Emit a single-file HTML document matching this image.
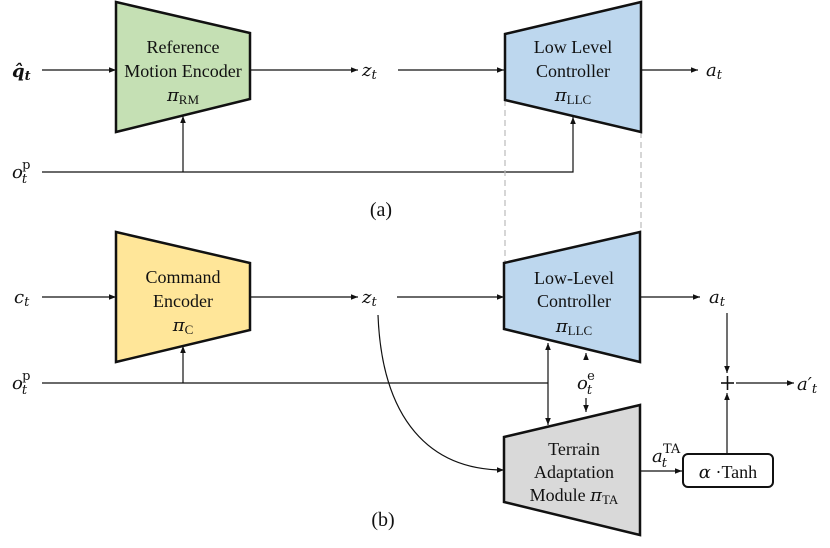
<!DOCTYPE html>
<html><head><meta charset="utf-8"><style>
html,body{margin:0;padding:0;background:#fff;}
svg{display:block;}
text{font-family:"Liberation Serif","Times New Roman","DejaVu Serif",serif;fill:#111;}
.m{font-family:"DejaVu Serif","Liberation Serif",serif;font-style:italic;}
</style></head><body>
<svg width="830" height="548" viewBox="0 0 830 548" xmlns="http://www.w3.org/2000/svg">
<defs>
<marker id="ar" viewBox="0 0 10 10" refX="10" refY="5" markerWidth="6" markerHeight="6" orient="auto-start-reverse"><path d="M0,1 L10,5 L0,9 z" fill="#111"/></marker>
</defs>
<g stroke="#111" stroke-width="1.2" fill="none">
<line x1="42" y1="70" x2="116" y2="70" marker-end="url(#ar)"/>
<line x1="250" y1="70" x2="358" y2="70" marker-end="url(#ar)"/>
<line x1="398" y1="70" x2="504" y2="70" marker-end="url(#ar)"/>
<line x1="641" y1="70" x2="698" y2="70" marker-end="url(#ar)"/>
<polyline points="42,172 573,172 573,117" marker-end="url(#ar)"/>
<line x1="183" y1="172" x2="183" y2="116" marker-end="url(#ar)"/>
<line x1="42" y1="297" x2="116" y2="297" marker-end="url(#ar)"/>
<line x1="250" y1="297" x2="358" y2="297" marker-end="url(#ar)"/>
<line x1="397" y1="297" x2="504" y2="297" marker-end="url(#ar)"/>
<line x1="641" y1="297" x2="700" y2="297" marker-end="url(#ar)"/>
<line x1="727" y1="313" x2="727" y2="373" marker-end="url(#ar)"/>
<line x1="736" y1="383" x2="794" y2="383" marker-end="url(#ar)"/>
<line x1="727" y1="454" x2="727" y2="393" marker-end="url(#ar)"/>
<line x1="641" y1="471" x2="682" y2="471" marker-end="url(#ar)"/>
<line x1="42" y1="383" x2="548" y2="383"/>
<line x1="183" y1="383" x2="183" y2="346" marker-end="url(#ar)"/>
<line x1="548" y1="425" x2="548" y2="343" marker-start="url(#ar)" marker-end="url(#ar)"/>
<line x1="586" y1="360" x2="586" y2="353" marker-end="url(#ar)"/>
<line x1="586" y1="398" x2="586" y2="412" marker-end="url(#ar)"/>
<path d="M378,315 C382,420 430,470 504,470" marker-end="url(#ar)"/>
<line x1="721" y1="383" x2="734" y2="383" stroke-width="1.6"/>
<line x1="727.5" y1="376" x2="727.5" y2="390" stroke-width="1.6"/>
</g>
<g stroke="#bbb" stroke-width="1.2" stroke-dasharray="6,4">
<line x1="505" y1="100" x2="505" y2="263"/>
<line x1="641" y1="132" x2="641" y2="232"/>
</g>
<g stroke="#111" stroke-width="2.5" stroke-linejoin="miter">
<polygon points="116,2 250,33 250,99 116,132" fill="#c5e0b4"/>
<polygon points="505,34 641,2 641,132 505,100" fill="#bdd7ee"/>
<polygon points="116,232 250,263 250,330 116,362" fill="#ffe699"/>
<polygon points="504,263 640,232 640,362 504,329" fill="#bdd7ee"/>
<polygon points="504,437 640,405 640,535 504,502" fill="#d9d9d9"/>
<rect x="683" y="454" width="90" height="33" rx="5" fill="#fff" stroke-width="2"/>
</g>
<g font-size="18" text-anchor="middle" font-family="Liberation Serif, Times New Roman, serif">
<text x="183" y="53">Reference</text>
<text x="183" y="77">Motion Encoder</text>
<text x="183" y="101"><tspan class="m">π</tspan><tspan font-size="13" dy="3">RM</tspan></text>
<text x="573" y="53">Low Level</text>
<text x="573" y="77">Controller</text>
<text x="573" y="101"><tspan class="m">π</tspan><tspan font-size="13" dy="3">LLC</tspan></text>
<text x="183" y="283">Command</text>
<text x="183" y="307">Encoder</text>
<text x="183" y="331"><tspan class="m">π</tspan><tspan font-size="13" dy="3">C</tspan></text>
<text x="574" y="284">Low-Level</text>
<text x="574" y="307">Controller</text>
<text x="574" y="332"><tspan class="m">π</tspan><tspan font-size="13" dy="3">LLC</tspan></text>
<text x="574" y="455">Terrain</text>
<text x="574" y="478">Adaptation</text>
<text x="574" y="501">Module <tspan class="m">π</tspan><tspan font-size="13" dy="3">TA</tspan></text>
<text x="728" y="478"><tspan class="m">α</tspan> ·Tanh</text>
<text x="381" y="216" font-size="20">(a)</text>
<text x="383" y="526" font-size="20">(b)</text>
</g>
<g font-size="18" class="m">
<text x="12" y="77" class="m" font-weight="bold">q̂<tspan font-size="13" dy="3">t</tspan></text>
<text x="12" y="178" class="m">o<tspan font-size="13" dx="-1" dy="5">t</tspan><tspan font-style="normal" font-size="13" dx="-5" dy="-14">p</tspan></text>
<text x="362" y="76" class="m">z<tspan font-size="13" dy="3">t</tspan></text>
<text x="706" y="76" class="m">a<tspan font-size="13" dy="3">t</tspan></text>
<text x="14" y="303" class="m">c<tspan font-size="13" dy="3">t</tspan></text>
<text x="12" y="389" class="m">o<tspan font-size="13" dx="-1" dy="5">t</tspan><tspan font-style="normal" font-size="13" dx="-5" dy="-14">p</tspan></text>
<text x="362" y="303" class="m">z<tspan font-size="13" dy="3">t</tspan></text>
<text x="709" y="303" class="m">a<tspan font-size="13" dy="3">t</tspan></text>
<text x="577" y="389" class="m">o<tspan font-size="13" dx="-1" dy="5">t</tspan><tspan font-style="normal" font-size="13" dx="-5" dy="-14">e</tspan></text>
<text x="652" y="462" class="m">a<tspan font-size="13" dx="-1" dy="5">t</tspan><tspan font-style="normal" font-size="13" dx="-4" dy="-14">TA</tspan></text>
<text x="797" y="390" class="m">a′<tspan font-size="13" dy="3">t</tspan></text>
</g>
</svg>
</body></html>
